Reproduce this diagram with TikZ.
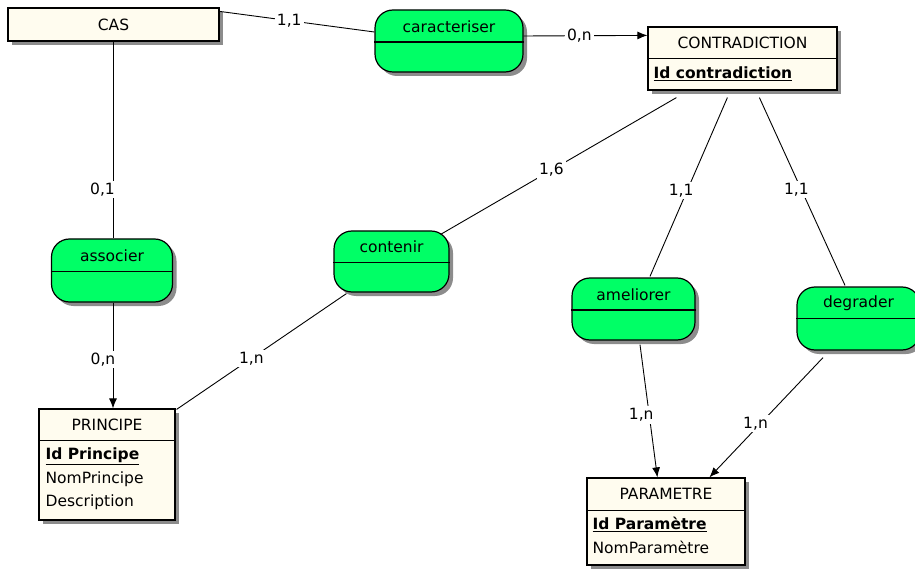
\documentclass[tikz,border=0pt]{standalone}
\usepackage{fontspec}
\setmainfont{DejaVu Sans}
\usetikzlibrary{shadows,arrows.meta,calc}
\definecolor{entfill}{HTML}{FFFCEF}
\definecolor{assocfill}{HTML}{00FF66}
\definecolor{shadowgray}{HTML}{8C8C8C}
\begin{document}
\begin{tikzpicture}[x=1pt,y=-1pt,
  font=\fontsize{15.5}{18}\selectfont,
  shad/.style={drop shadow={shadow xshift=4pt,shadow yshift=-4pt,fill=shadowgray,opacity=1}},
  ent/.style={draw,line width=1.2pt,fill=entfill,shad,inner sep=0pt},
  assoc/.style={draw,line width=1.2pt,fill=assocfill,shad,inner sep=0pt,rounded corners=18pt},
  txt/.style={inner sep=0pt},
  attr/.style={inner sep=0pt,anchor=west},
  divider/.style={line width=1.2pt},
  link/.style={line width=0.9pt},
  arr/.style={link,-{Latex[length=10pt,width=8pt]}},
  lbl/.style={fill=white,inner sep=2pt}
]
\useasboundingbox (0,0) rectangle (915,569);

% entities
\node[ent,minimum width=211pt,minimum height=33pt] (cas) at (113.5,24.5) {};
\node[txt] at (cas) {CAS};

\node[ent,minimum width=189pt,minimum height=63pt] (contra) at (742.5,58.5) {};
\node[txt] at ([yshift=-16pt]contra.north) {CONTRADICTION};
\draw[divider] ([yshift=-32pt]contra.north west) -- ([yshift=-32pt]contra.north east);
\node[attr] at ([xshift=6pt,yshift=-47pt]contra.north west) {\underline{\textbf{Id contradiction}}};

\node[ent,minimum width=136pt,minimum height=111pt] (principe) at (107,464.5) {};
\node[txt] at ([yshift=-16pt]principe.north) {PRINCIPE};
\draw[divider] ([yshift=-32pt]principe.north west) -- ([yshift=-32pt]principe.north east);
\node[attr] at ([xshift=7pt,yshift=-48pt]principe.north west) {\underline{\textbf{Id Principe}}};
\node[attr] at ([xshift=7pt,yshift=-71pt]principe.north west) {NomPrincipe};
\node[attr] at ([xshift=7pt,yshift=-94pt]principe.north west) {Description};

\node[ent,minimum width=158pt,minimum height=87pt] (param) at (666,521.5) {};
\node[txt] at ([yshift=-16pt]param.north) {PARAMETRE};
\draw[divider] ([yshift=-33pt]param.north west) -- ([yshift=-33pt]param.north east);
\node[attr] at ([xshift=6pt,yshift=-47pt]param.north west) {\underline{\textbf{Id Paramètre}}};
\node[attr] at ([xshift=6pt,yshift=-70pt]param.north west) {NomParamètre};

% associations
\node[assoc,minimum width=148pt,minimum height=62pt] (carac) at (449,41) {};
\node[txt] at ([yshift=-17pt]carac.north) {caracteriser};
\draw[divider] ([yshift=-1pt]carac.west) -- ([yshift=-1pt]carac.east);

\node[assoc,minimum width=121pt,minimum height=63pt] (associer) at (112,270.5) {};
\node[txt] at ([yshift=-17pt]associer.north) {associer};
\draw[divider] ([yshift=-1pt]associer.west) -- ([yshift=-1pt]associer.east);

\node[assoc,minimum width=115pt,minimum height=61pt] (contenir) at (391.5,261.5) {};
\node[txt] at ([yshift=-16pt]contenir.north) {contenir};
\draw[divider] ([yshift=-1pt]contenir.west) -- ([yshift=-1pt]contenir.east);

\node[assoc,minimum width=123pt,minimum height=62pt] (amel) at (633.5,309) {};
\node[txt] at ([yshift=-17pt]amel.north) {ameliorer};
\draw[divider] ([yshift=-1pt]amel.west) -- ([yshift=-1pt]amel.east);

\node[assoc,minimum width=123pt,minimum height=63pt] (degr) at (858.5,318.5) {};
\node[txt] at ([yshift=-17pt]degr.north) {degrader};
\draw[divider] (degr.west) -- (degr.east);

% connectors
\draw[link] ([yshift=-4pt]cas.north east) -- node[lbl,pos=0.45] {1,1} ([yshift=9pt]carac.west);
\draw[arr] ([yshift=5pt]carac.east) -- node[lbl,pos=0.45] {0,n} ([yshift=-9pt]contra.north west);
\draw[link] (cas.south) -- node[lbl,pos=0.75,xshift=-11pt] {0,1} (cas.south |- associer.north);
\draw[arr] ([xshift=1pt]associer.south) -- node[lbl,pos=0.54,xshift=-10pt] {0,n} ([xshift=1pt]associer.south |- principe.north);
\draw[link] ([xshift=13pt,yshift=-1pt]contenir.south west) -- node[lbl,pos=0.56] {1,n} ([xshift=1pt,yshift=-1pt]principe.north east);
\draw[link] ([xshift=29pt,yshift=-7pt]contra.south west) -- node[lbl,pos=0.53] {1,6} ([xshift=-9pt,yshift=-4pt]contenir.north east);
\draw[link] ([xshift=80pt,yshift=-7pt]contra.south west) -- node[lbl,pos=0.52,xshift=-6pt] {1,1} ([xshift=16.5pt,yshift=1pt]amel.north);
\draw[link] ([xshift=112pt,yshift=-7pt]contra.south west) -- node[lbl,pos=0.49,xshift=-5pt] {1,1} ([xshift=-13.5pt,yshift=1pt]degr.north);
\draw[arr] ([xshift=6.5pt,yshift=-4pt]amel.south) -- node[lbl,pos=0.53,xshift=-8pt] {1,n} ([xshift=71pt]param.north west);
\draw[arr] ([xshift=-35.5pt,yshift=-7pt]degr.south) -- node[lbl,pos=0.55,xshift=-5pt] {1,n} ([xshift=123pt]param.north west);
\end{tikzpicture}
\end{document}
